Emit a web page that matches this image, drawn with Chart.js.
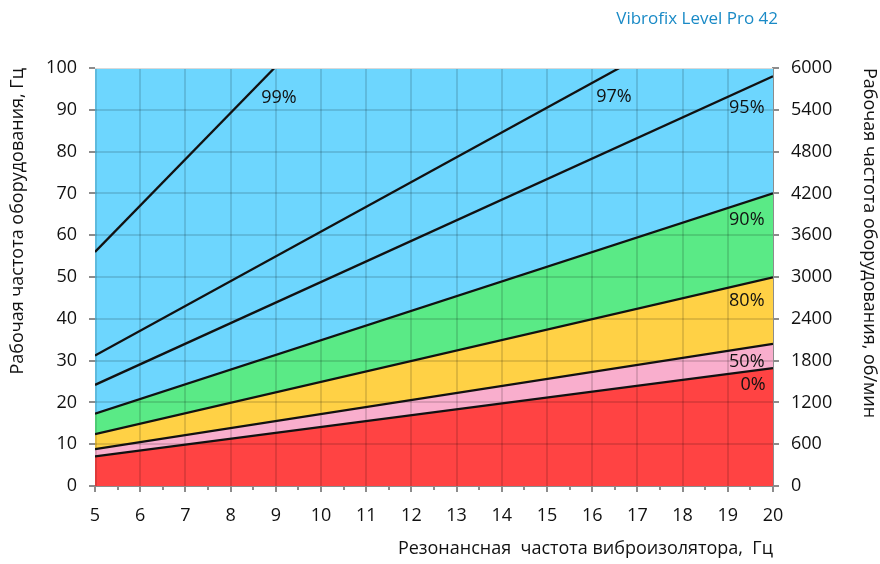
<!DOCTYPE html>
<html>
<head>
<meta charset="utf-8">
<script src="https://cdn.jsdelivr.net/npm/chart.js@4"></script>
<style>
  body { margin: 0; background: #fff; }
  #wrap { width: 880px; height: 564px; }
</style>
</head>
<body>
<div id="wrap"><canvas id="chart"></canvas></div>
<script>
// resonance frequency of isolator, Hz (x) – lines are straight, so ends are enough
const xEnds = [5, 20];
const line0 = [7.1, 28.2];
const line50 = [8.8, 34.0];
const line80 = [12.4, 49.9];
const line90 = [17.3, 70.0];
const line95 = [24.2, 98.0];
const top100 = [100, 100];
// these two leave the chart at the top (y = 100)
const line97X = [5, 16.6];
const line97Y = [31.2, 100];
const line99X = [5, 8.97];
const line99Y = [56.0, 100];

const curveLabels = ["0%", "50%", "80%", "90%", "95%", "97%", "99%"];

const pts = (xs, ys) => xs.map((x, i) => ({ x: x, y: ys[i] }));

const FONT = "'Open Sans', 'DejaVu Sans', sans-serif";

// grid sits on top of the coloured bands but under the lines
const overlayGrid = {
  id: "overlayGrid",
  beforeDatasetsDraw(chart) {
    const { ctx, chartArea: a, scales } = chart;
    ctx.save();
    ctx.strokeStyle = "rgba(0,0,0,0.13)";
    ctx.lineWidth = 2;
    for (let v = 5; v < 20; v++) {
      const px = Math.round(scales.x.getPixelForValue(v)) + (v === 5 ? 1 : 0);
      ctx.beginPath(); ctx.moveTo(px, a.top); ctx.lineTo(px, a.bottom); ctx.stroke();
    }
    for (let v = 10; v < 100; v += 10) {
      const py = Math.round(scales.y.getPixelForValue(v));
      ctx.beginPath(); ctx.moveTo(a.left, py); ctx.lineTo(a.right, py); ctx.stroke();
    }
    ctx.restore();
  },
  afterDraw(chart) {
    const { ctx, chartArea: a, scales } = chart;
    ctx.save();
    // top frame line
    ctx.strokeStyle = "#d9d9d9";
    ctx.lineWidth = 1;
    ctx.beginPath(); ctx.moveTo(a.left, a.top + 0.5); ctx.lineTo(a.right, a.top + 0.5); ctx.stroke();
    // minor ticks on x
    ctx.strokeStyle = "#8c8c8c";
    ctx.lineWidth = 2;
    for (let v = 5.5; v < 20; v += 1) {
      const px = Math.round(scales.x.getPixelForValue(v));
      ctx.beginPath(); ctx.moveTo(px, a.bottom); ctx.lineTo(px, a.bottom + 4); ctx.stroke();
    }
    // curve labels
    ctx.fillStyle = "#111";
    ctx.font = "18px " + FONT;
    ctx.textAlign = "center";
    ctx.textBaseline = "middle";
    const spots = [[19.56, 24.2], [19.42, 29.7], [19.42, 44.3], [19.42, 63.6], [19.42, 90.4], [16.48, 93.1], [9.07, 92.8]];
    curveLabels.forEach((t, i) => {
      ctx.fillText(t, scales.x.getPixelForValue(spots[i][0]), scales.y.getPixelForValue(spots[i][1]));
    });
    // header
    ctx.fillStyle = "#1a8ac6";
    ctx.font = "17px " + FONT;
    ctx.textAlign = "right";
    ctx.fillText("Vibrofix Level Pro 42", a.right + 5, 19);
    ctx.restore();
  }
};

const lineDs = (data, fill, color) => ({
  data: data,
  borderColor: "#111",
  borderWidth: 2.3,
  pointRadius: 0,
  fill: fill,
  backgroundColor: color
});

const tickFont = { size: 18, family: FONT };
const titleFont = { size: 18, family: FONT };

new Chart(document.getElementById("chart"), {
  type: "line",
  data: {
    datasets: [
      lineDs(pts(xEnds, line0), "origin", "#ff4343"),
      lineDs(pts(xEnds, line50), "-1", "#f9aecd"),
      lineDs(pts(xEnds, line80), "-1", "#ffd145"),
      lineDs(pts(xEnds, line90), "-1", "#5aea86"),
      Object.assign(lineDs(pts(xEnds, top100), "-1", "#6dd6fe"), { borderWidth: 0 }),
      lineDs(pts(xEnds, line95), false, "transparent"),
      lineDs(pts(line97X, line97Y), false, "transparent"),
      lineDs(pts(line99X, line99Y), false, "transparent")
    ]
  },
  options: {
    responsive: true,
    maintainAspectRatio: false,
    animation: false,
    layout: { padding: { top: 68, left: 0, right: 0, bottom: 0 } },
    plugins: {
      legend: { display: false },
      tooltip: { enabled: false },
      filler: { drawTime: "beforeDatasetsDraw" }
    },
    scales: {
      x: {
        type: "linear",
        min: 5, max: 20,
        ticks: { stepSize: 1, color: "#111", font: tickFont, padding: 13 },
        grid: { drawOnChartArea: false, color: "#8c8c8c", lineWidth: 2, tickLength: 6 },
        border: { color: "#8c8c8c", width: 2 },
        title: { display: true, text: "Резонансная  частота виброизолятора,  Гц", align: "end", color: "#111", font: titleFont, padding: { top: 5 } },
        afterFit(s) { s.height = 78; }
      },
      y: {
        position: "left",
        min: 0, max: 100,
        ticks: { stepSize: 10, color: "#111", font: tickFont, padding: 12 },
        grid: { drawOnChartArea: false, color: "#8c8c8c", lineWidth: 2, tickLength: 6 },
        border: { display: false },
        title: { display: true, text: "Рабочая частота оборудования, Гц", align: "end", color: "#111", font: titleFont, padding: { top: 7, bottom: 0 } },
        afterFit(s) { s.width = 95; }
      },
      y2: {
        position: "right",
        min: 0, max: 6000,
        ticks: { stepSize: 600, color: "#111", font: tickFont, padding: 12, callback: v => String(v) },
        grid: { drawOnChartArea: false, color: "#8c8c8c", lineWidth: 2, tickLength: 6 },
        border: { color: "#8c8c8c", width: 2 },
        title: { display: true, text: "Рабочая частота оборудования, об/мин", align: "end", color: "#111", font: titleFont, padding: { top: 0, bottom: 8 } },
        afterFit(s) { s.width = 107; }
      }
    }
  },
  plugins: [overlayGrid]
});
</script>
</body>
</html>
